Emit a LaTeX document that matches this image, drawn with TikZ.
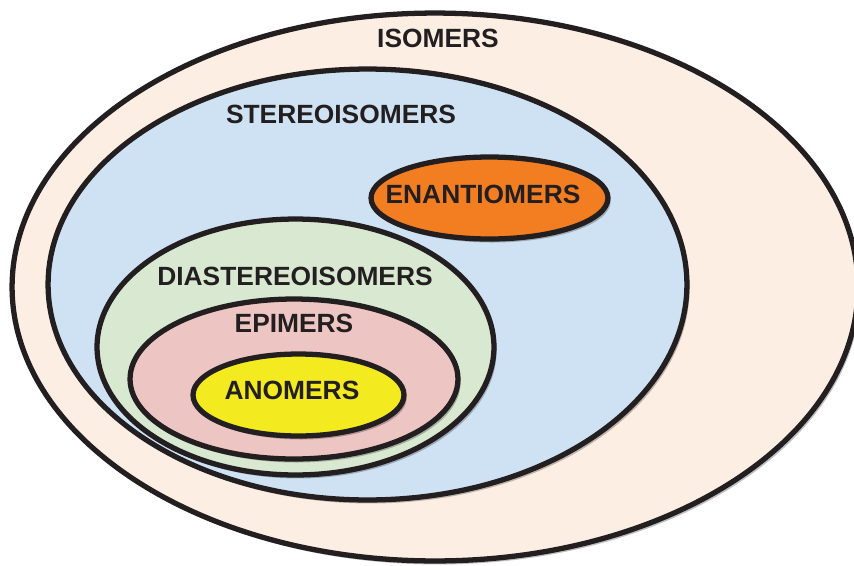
\documentclass[tikz,border=0pt]{standalone}
\usepackage{fontspec}
\setmainfont{Liberation Sans}
\usetikzlibrary{shapes.geometric,shadows}
\definecolor{tinta}{HTML}{231F20}
\definecolor{pessego}{HTML}{FDEEE3}
\definecolor{azul}{HTML}{CFE2F3}
\definecolor{verde}{HTML}{D8E8D1}
\definecolor{rosa}{HTML}{EDC5C2}
\definecolor{amarelo}{HTML}{F3EA1F}
\definecolor{laranja}{HTML}{F37E22}
\begin{document}
\begin{tikzpicture}[
        x=0.02cm, y=-0.02cm,
        font=\fontsize{15}{18}\selectfont\bfseries,
        conjunto/.style={ellipse, draw=tinta, line width=3pt, inner sep=0pt, outer sep=0pt,
            drop shadow={shadow xshift=1.5pt, shadow yshift=-2pt, opacity=0.25, fill=black}},
        rotulo/.style={text=tinta, inner sep=0pt}]
        \useasboundingbox (0,0) rectangle (854,565);
        \foreach \x/\y/\w/\h/\cor/\nome in {
            435/287/16.92/10.96/pessego/isomeros,
            367.5/284.5/12.78/8.62/azul/estereo,
            489.5/198/4.74/1.64/laranja/enantio,
            295.5/347/7.94/5.12/verde/diastereo,
            294/379/6.56/3.2/rosa/epimeros,
            298.5/395/4.22/1.64/amarelo/anomeros}{
            \node[conjunto, fill=\cor, minimum width=\w cm, minimum height=\h cm] (c\nome) at (\x,\y) {};
        }
        \foreach \x/\y/\nome/\texto in {
            438/38/isomeros/ISOMERS,
            341/114/estereo/STEREOISOMERS,
            483/194/enantio/ENANTIOMERS,
            295/276/diastereo/DIASTEREOISOMERS,
            294/323/epimeros/EPIMERS,
            292/390/anomeros/ANOMERS}{
            \node[rotulo] (r\nome) at (\x,\y) {\texto};
        }
    \end{tikzpicture}
\end{document}
